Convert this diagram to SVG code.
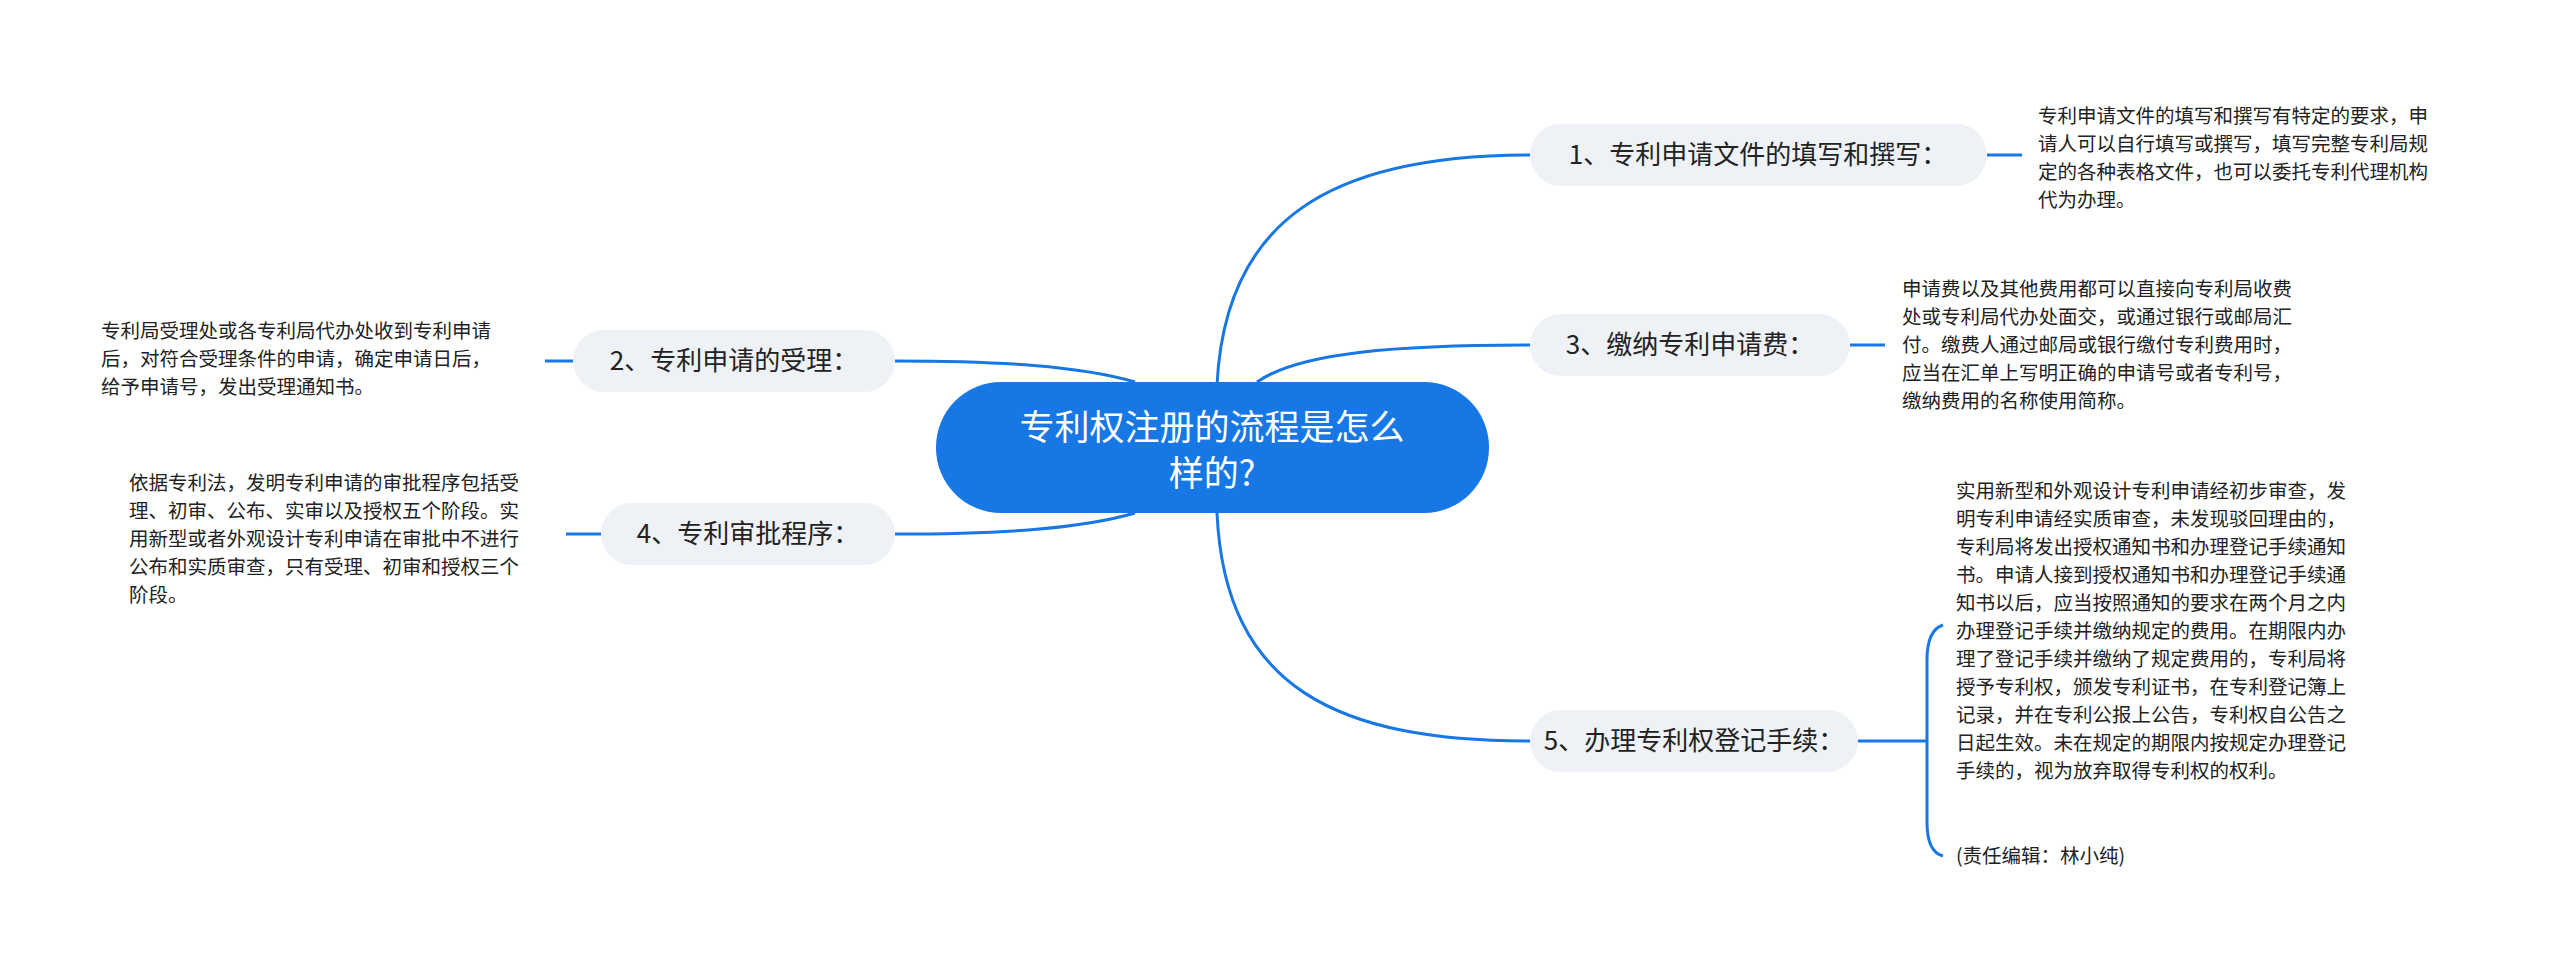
<svg xmlns="http://www.w3.org/2000/svg" width="2560" height="970" viewBox="0 0 2560 970">
<style>
.c{fill:none;stroke:#1677e5;stroke-width:3}
.n{fill:#eef1f5}
.t{font-family:"Noto Sans CJK SC","Liberation Sans",sans-serif;font-size:26px;fill:#222}
.d{font-family:"Noto Sans CJK SC","Liberation Sans",sans-serif;font-size:19.5px;fill:#222}
</style>
<rect width="2560" height="970" fill="#fff"/>
<g id="connectors">
<path class="c" d="M1217,385 C1225,220 1330,155 1530,155"/>
<path class="c" d="M1257,382 C1300,352 1400,345 1530,345"/>
<path class="c" d="M1217,513 C1225,690 1340,741 1530,741"/>
<path class="c" d="M1135,382 C1080,366 1000,361 895,361"/>
<path class="c" d="M1135,513 C1080,529 1000,534 895,534"/>
<path class="c" d="M1987,155 H2022"/>
<path class="c" d="M1850,345 H1885"/>
<path class="c" d="M573,361 H545"/>
<path class="c" d="M601,534 H566"/>
<path class="c" d="M1858,741 H1927"/>
<path class="c" d="M1943,625 Q1927,630 1927,660 L1927,822 Q1927,852 1943,856"/>
</g>
<g id="center">
<rect x="936" y="382" width="553" height="131" rx="65" fill="#1677e5"/>
<text x="1212" y="440" text-anchor="middle" font-family="Noto Sans CJK SC,Liberation Sans,sans-serif" font-size="35" fill="#fff">专利权注册的流程是怎么</text>
<text x="1212" y="486" text-anchor="middle" font-family="Noto Sans CJK SC,Liberation Sans,sans-serif" font-size="35" fill="#fff">样的?</text>
</g>
<g id="n1">
<rect class="n" x="1530" y="124" width="457" height="62" rx="31"/>
<text class="t" x="1758" y="164" text-anchor="middle">1、专利申请文件的填写和撰写：</text>
</g>
<g id="d1">
<text class="d" x="2038" y="123">专利申请文件的填写和撰写有特定的要求，申</text>
<text class="d" x="2038" y="151">请人可以自行填写或撰写，填写完整专利局规</text>
<text class="d" x="2038" y="179">定的各种表格文件，也可以委托专利代理机构</text>
<text class="d" x="2038" y="207">代为办理。</text>
</g>
<g id="n3">
<rect class="n" x="1530" y="314" width="320" height="62" rx="31"/>
<text class="t" x="1690" y="354" text-anchor="middle">3、缴纳专利申请费：</text>
</g>
<g id="d3">
<text class="d" x="1902" y="296">申请费以及其他费用都可以直接向专利局收费</text>
<text class="d" x="1902" y="324">处或专利局代办处面交，或通过银行或邮局汇</text>
<text class="d" x="1902" y="352">付。缴费人通过邮局或银行缴付专利费用时，</text>
<text class="d" x="1902" y="380">应当在汇单上写明正确的申请号或者专利号，</text>
<text class="d" x="1902" y="408">缴纳费用的名称使用简称。</text>
</g>
<g id="n5">
<rect class="n" x="1530" y="710" width="328" height="62" rx="31"/>
<text class="t" x="1694" y="750" text-anchor="middle">5、办理专利权登记手续：</text>
</g>
<g id="d5">
<text class="d" x="1956" y="498">实用新型和外观设计专利申请经初步审查，发</text>
<text class="d" x="1956" y="526">明专利申请经实质审查，未发现驳回理由的，</text>
<text class="d" x="1956" y="554">专利局将发出授权通知书和办理登记手续通知</text>
<text class="d" x="1956" y="582">书。申请人接到授权通知书和办理登记手续通</text>
<text class="d" x="1956" y="610">知书以后，应当按照通知的要求在两个月之内</text>
<text class="d" x="1956" y="638">办理登记手续并缴纳规定的费用。在期限内办</text>
<text class="d" x="1956" y="666">理了登记手续并缴纳了规定费用的，专利局将</text>
<text class="d" x="1956" y="694">授予专利权，颁发专利证书，在专利登记簿上</text>
<text class="d" x="1956" y="722">记录，并在专利公报上公告，专利权自公告之</text>
<text class="d" x="1956" y="750">日起生效。未在规定的期限内按规定办理登记</text>
<text class="d" x="1956" y="778">手续的，视为放弃取得专利权的权利。</text>
<text class="d" x="1956" y="863">(责任编辑：林小纯)</text>
</g>
<g id="n2">
<rect class="n" x="573" y="330" width="322" height="62" rx="31"/>
<text class="t" x="734" y="370" text-anchor="middle">2、专利申请的受理：</text>
</g>
<g id="d2">
<text class="d" x="101" y="338">专利局受理处或各专利局代办处收到专利申请</text>
<text class="d" x="101" y="366">后，对符合受理条件的申请，确定申请日后，</text>
<text class="d" x="101" y="394">给予申请号，发出受理通知书。</text>
</g>
<g id="n4">
<rect class="n" x="601" y="503" width="294" height="62" rx="31"/>
<text class="t" x="748" y="543" text-anchor="middle">4、专利审批程序：</text>
</g>
<g id="d4">
<text class="d" x="129" y="490">依据专利法，发明专利申请的审批程序包括受</text>
<text class="d" x="129" y="518">理、初审、公布、实审以及授权五个阶段。实</text>
<text class="d" x="129" y="546">用新型或者外观设计专利申请在审批中不进行</text>
<text class="d" x="129" y="574">公布和实质审查，只有受理、初审和授权三个</text>
<text class="d" x="129" y="602">阶段。</text>
</g>
</svg>
